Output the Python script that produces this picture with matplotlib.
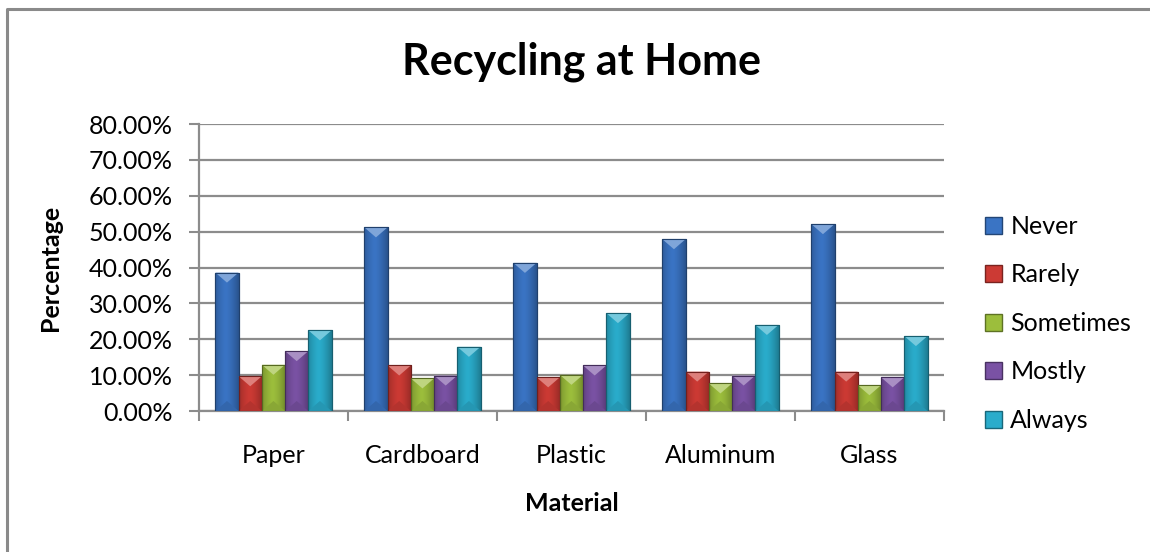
import matplotlib
matplotlib.use("Agg")
import matplotlib.pyplot as plt
import matplotlib.lines as mlines
import matplotlib.patches as mpatches
import matplotlib.colors as mcolors
import numpy as np

plt.rcParams['font.family'] = ['Lato', 'DejaVu Sans']

# Survey shares (%) per material and answer
materials = ["Paper", "Cardboard", "Plastic", "Aluminum", "Glass"]
answers = ["Never", "Rarely", "Sometimes", "Mostly", "Always"]
never = [38.6, 51.2, 41.3, 47.9, 52.1]
rarely = [9.7, 12.7, 9.4, 11.0, 11.0]
sometimes = [12.9, 9.1, 10.1, 7.7, 7.2]
mostly = [16.7, 9.9, 12.7, 9.9, 9.4]
always = [22.5, 17.9, 27.3, 24.0, 20.9]
series = [never, rarely, sometimes, mostly, always]

colors = ["#3a74c4", "#cc3a34", "#9cbe3c", "#7a52a4", "#2aaccb"]
grid_color = "#8c8c8c"
fs = 18


def shade(c, f):
    r, g, b = mcolors.to_rgb(c)
    if f < 1:
        return (r * f, g * f, b * f)
    f = f - 1
    return (r + (1 - r) * f, g + (1 - g) * f, b + (1 - b) * f)


def bevel_bar(ax, x, h, w, c):
    # body with a horizontal light-dark gradient clipped to the bar
    bar = ax.bar(x, h, w, color=c, edgecolor=shade(c, 0.6), linewidth=0.8, zorder=3)[0]
    grad = np.linspace(0, 1, 64)
    prof = 1 - 0.35 * np.abs(grad - 0.45) ** 1.5 * 2
    rgb = np.array(mcolors.to_rgb(c))
    img = (rgb[None, None, :] * prof[None, :, None]).clip(0, 1)
    im = ax.imshow(img, extent=(x - w / 2, x + w / 2, 0, h), aspect="auto",
                   zorder=3.1, interpolation="bilinear")
    im.set_clip_path(bar)
    # top facet (light) and bottom facet (dark)
    d = 2.8
    top = mpatches.Polygon([(x - w / 2, h), (x + w / 2, h), (x, h - d)],
                           closed=True, color=shade(c, 1.35), lw=0, zorder=3.2)
    bot = mpatches.Polygon([(x - w / 2, 0), (x + w / 2, 0), (x, min(d, h))],
                           closed=True, color=shade(c, 0.88), lw=0, zorder=3.2)
    ax.add_patch(top)
    ax.add_patch(bot)
    ax.add_patch(mpatches.Rectangle((x - w / 2, 0), w, h, fill=False,
                                    edgecolor=shade(c, 0.55), lw=0.8, zorder=3.3))


fig = plt.figure(figsize=(11.5, 5.52), dpi=100)
ax = fig.add_axes([0.1730, 0.2554, 0.6478, 0.5199])

x = np.arange(len(materials))
width = 0.156
offsets = (np.arange(len(answers)) - 2) * width
for vals, off, c in zip(series, offsets, colors):
    for xi, v in zip(x, vals):
        bevel_bar(ax, xi + off, v, width, c)

ax.set_xlim(-0.5, len(materials) - 0.5)
ax.set_ylim(0, 80)
ax.set_yticks(np.arange(0, 81, 10))
ax.set_yticklabels([f"{v:.2f}%" for v in np.arange(0, 81, 10)], fontsize=fs)
ax.set_xticks(x)
ax.set_xticklabels(materials, fontsize=fs)
ax.set_xticks(np.arange(-0.5, len(materials)), minor=True)
ax.tick_params(axis="x", which="major", length=0, pad=24)
ax.tick_params(axis="x", which="minor", length=7, width=1.5, color=grid_color)
ax.tick_params(axis="y", length=7, width=1.5, color=grid_color, pad=12)
ax.grid(axis="y", color=grid_color, linewidth=1.6, zorder=0)
ax.set_axisbelow(True)
for side in ["top", "right"]:
    ax.spines[side].set_visible(False)
for side in ["left", "bottom"]:
    ax.spines[side].set_color(grid_color)
    ax.spines[side].set_linewidth(1.6)

ax.set_ylabel("Percentage", fontsize=fs, fontweight="bold", labelpad=19)
ax.set_xlabel("Material", fontsize=fs, fontweight="bold", labelpad=18)
fig.text(0.506, 0.888, "Recycling at Home", fontsize=31, fontweight="bold",
         ha="center", va="center")

handles = [mpatches.Patch(facecolor=c, edgecolor=shade(c, 0.6), label=a)
           for a, c in zip(answers, colors)]
fig.legend(handles=handles, loc="center left", bbox_to_anchor=(0.846, 0.414),
           frameon=False, fontsize=fs, handlelength=0.65, handleheight=0.65,
           handletextpad=0.35, labelspacing=1.02, borderpad=0)

# outer chart border
fig.add_artist(mlines.Line2D([7 / 1150, 7 / 1150, 1.0], [0.0, 1 - 9 / 552, 1 - 9 / 552],
                             color="#8a8a8a", linewidth=2.2))

fig.savefig("out.png", dpi=100)
